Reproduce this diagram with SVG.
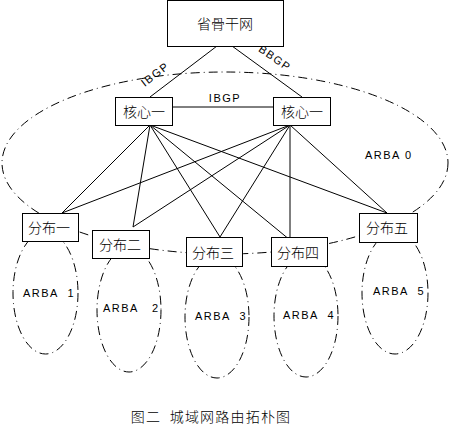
<svg xmlns="http://www.w3.org/2000/svg" width="450" height="443" viewBox="0 0 450 443">
<style>
.bg{fill:#fff}
.box{fill:#fff;stroke:#000;stroke-width:1}
.ln{stroke:#000;stroke-width:1;fill:none}
.dd{stroke:#000;stroke-width:1;fill:none;stroke-dasharray:9,4,1,4}
.cj{font-family:"Noto Sans CJK SC","Liberation Sans",sans-serif;font-size:14px;font-weight:300;fill:#000;text-anchor:middle;dominant-baseline:central}
.lb{font-family:"Liberation Sans","DejaVu Sans",sans-serif;font-size:11px;fill:#000;letter-spacing:1.5px}
</style>
<rect class="bg" x="0" y="0" width="450" height="443"/>
<g id="areas">
<ellipse class="dd" cx="225" cy="163" rx="223" ry="91"/>
<ellipse class="dd" cx="45.5" cy="293" rx="32.5" ry="61"/>
<ellipse class="dd" cx="129" cy="310" rx="32" ry="62"/>
<ellipse class="dd" cx="217" cy="317" rx="32" ry="61"/>
<ellipse class="dd" cx="306" cy="316" rx="32" ry="61"/>
<ellipse class="dd" cx="395" cy="293" rx="33" ry="61"/>
</g>
<g id="connectors">
<line class="ln" x1="217" y1="46" x2="150" y2="97"/>
<line class="ln" x1="232" y1="46" x2="302" y2="97"/>
<line class="ln" x1="172" y1="107" x2="273" y2="107"/>
<line class="ln" x1="150" y1="125" x2="62" y2="213"/>
<line class="ln" x1="150" y1="125" x2="133" y2="227"/>
<line class="ln" x1="150" y1="125" x2="220" y2="237"/>
<line class="ln" x1="150" y1="125" x2="290" y2="240"/>
<line class="ln" x1="150" y1="125" x2="387" y2="213"/>
<line class="ln" x1="290" y1="125" x2="62" y2="213"/>
<line class="ln" x1="290" y1="125" x2="133" y2="227"/>
<line class="ln" x1="290" y1="125" x2="220" y2="237"/>
<line class="ln" x1="290" y1="125" x2="290" y2="240"/>
<line class="ln" x1="290" y1="125" x2="387" y2="213"/>
<text class="lb" transform="translate(155,74) rotate(-38)" text-anchor="middle" dominant-baseline="central">IBGP</text>
<text class="lb" transform="translate(275,58) rotate(35)" text-anchor="middle" dominant-baseline="central">BBGP</text>
<text class="lb" x="225" y="98" text-anchor="middle" dominant-baseline="central">IBGP</text>
</g>
<g id="backbone"><rect class="box" x="167.5" y="0.5" width="116" height="46"/><text class="cj" x="225" y="23">省骨干网</text></g>
<g id="core1"><rect class="box" x="115.5" y="97.5" width="57" height="28"/><text class="cj" x="144" y="111">核心一</text></g>
<g id="core2"><rect class="box" x="273.5" y="97.5" width="57" height="28"/><text class="cj" x="302" y="111">核心一</text></g>
<g id="dist1"><rect class="box" x="22.5" y="213.5" width="56" height="28"/><text class="cj" x="49" y="227">分布一</text></g>
<g id="dist2"><rect class="box" x="92.5" y="230.5" width="57" height="28"/><text class="cj" x="120" y="244">分布二</text></g>
<g id="dist3"><rect class="box" x="186.5" y="237.5" width="56" height="29"/><text class="cj" x="213" y="252">分布三</text></g>
<g id="dist4"><rect class="box" x="271.5" y="237.5" width="56" height="29"/><text class="cj" x="298" y="252">分布四</text></g>
<g id="dist5"><rect class="box" x="359.5" y="213.5" width="58" height="29"/><text class="cj" x="387" y="227">分布五</text></g>
<g id="labels">
<text class="lb" x="365" y="159">ARBA 0</text>
<text class="lb" x="23" y="297" xml:space="preserve">ARBA  1</text>
<text class="lb" x="103" y="312" xml:space="preserve">ARBA   2</text>
<text class="lb" x="195" y="320" xml:space="preserve">ARBA  3</text>
<text class="lb" x="283" y="319" xml:space="preserve">ARBA  4</text>
<text class="lb" x="373" y="295" xml:space="preserve">ARBA  5</text>
<text class="cj" x="211" y="416" style="letter-spacing:1.2px" xml:space="preserve">图二  城域网路由拓朴图</text>
</g>
</svg>
